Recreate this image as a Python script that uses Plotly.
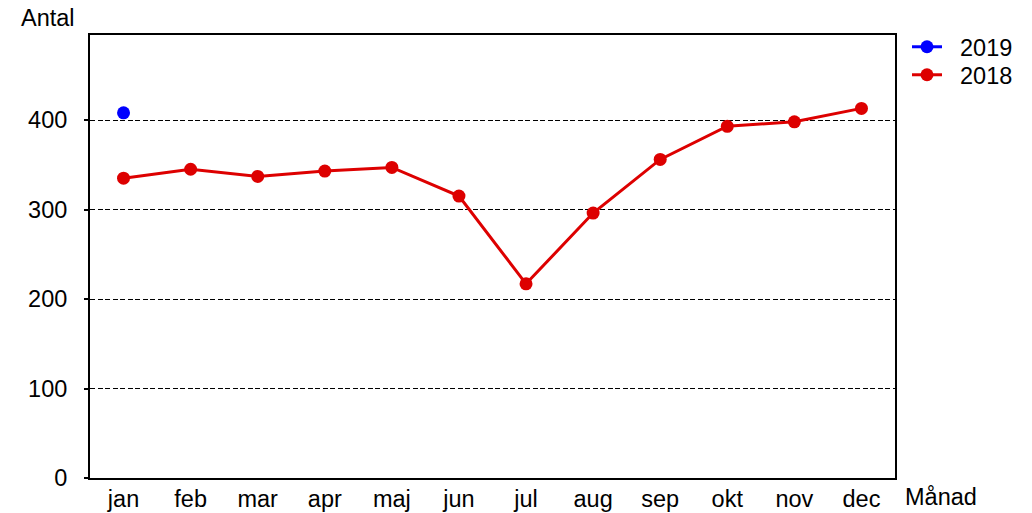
import plotly.graph_objects as go

months = ["jan", "feb", "mar", "apr", "maj", "jun", "jul", "aug", "sep", "okt", "nov", "dec"]
values_2018 = [335, 345, 337, 343, 347, 315, 217, 296, 356, 393, 398, 413]
months_2019 = ["jan"]
values_2019 = [408]
y_ticks = [0, 100, 200, 300, 400]

FONT = "Liberation Sans, Arial, sans-serif"
FS = 23.5
NB = "\u00a0\u00a0"

fig = go.Figure()
fig.add_trace(go.Scatter(
    x=months_2019, y=values_2019, name=NB + "2019", mode="lines+markers",
    line=dict(color="#0000FF", width=3), marker=dict(color="#0000FF", size=13),
    legend="legend",
))
fig.add_trace(go.Scatter(
    x=months, y=values_2018, name=NB + "2018", mode="lines+markers",
    line=dict(color="#DD0000", width=3), marker=dict(color="#DD0000", size=13),
    legend="legend2",
))

leg_common = dict(xanchor="left", yanchor="top", font=dict(size=FS),
                  itemwidth=30, bgcolor="rgba(0,0,0,0)")

fig.update_layout(
    width=1032, height=513,
    margin=dict(l=90, r=137, t=35, b=35),
    paper_bgcolor="white", plot_bgcolor="white",
    font=dict(family=FONT, size=FS, color="black"),
    showlegend=True,
    legend=dict(x=1.0149, y=1.0226, **leg_common),
    legend2=dict(x=1.0149, y=0.9594, **leg_common),
    xaxis=dict(
        type="category", categoryorder="array", categoryarray=months,
        range=[-0.5, 11.5], showline=True, linecolor="black", linewidth=2,
        mirror=True, showgrid=False, ticks="", ticklabelstandoff=-1,
        zeroline=False, fixedrange=True, automargin=False,
    ),
    yaxis=dict(
        range=[0, 495], tickvals=y_ticks, showline=True, linecolor="black",
        linewidth=2, mirror=True, showgrid=True, gridcolor="black",
        griddash="5px,2.5px", gridwidth=1.3, ticks="outside", ticklen=4,
        tickcolor="black", tickwidth=1.5, ticklabelstandoff=12,
        zeroline=False, fixedrange=True, automargin=False,
    ),
    annotations=[
        dict(text="Antal", xref="paper", yref="paper", x=0, y=1,
             xanchor="center", yanchor="middle", xshift=-42, yshift=17,
             showarrow=False, font=dict(size=FS)),
        dict(text="Månad", xref="paper", yref="paper", x=1, y=0,
             xanchor="left", yanchor="middle", xshift=8, yshift=-19,
             showarrow=False, font=dict(size=FS)),
    ],
)

fig.write_html("out.html", config={"displayModeBar": False},
               post_script="document.body.style.margin='0';")
